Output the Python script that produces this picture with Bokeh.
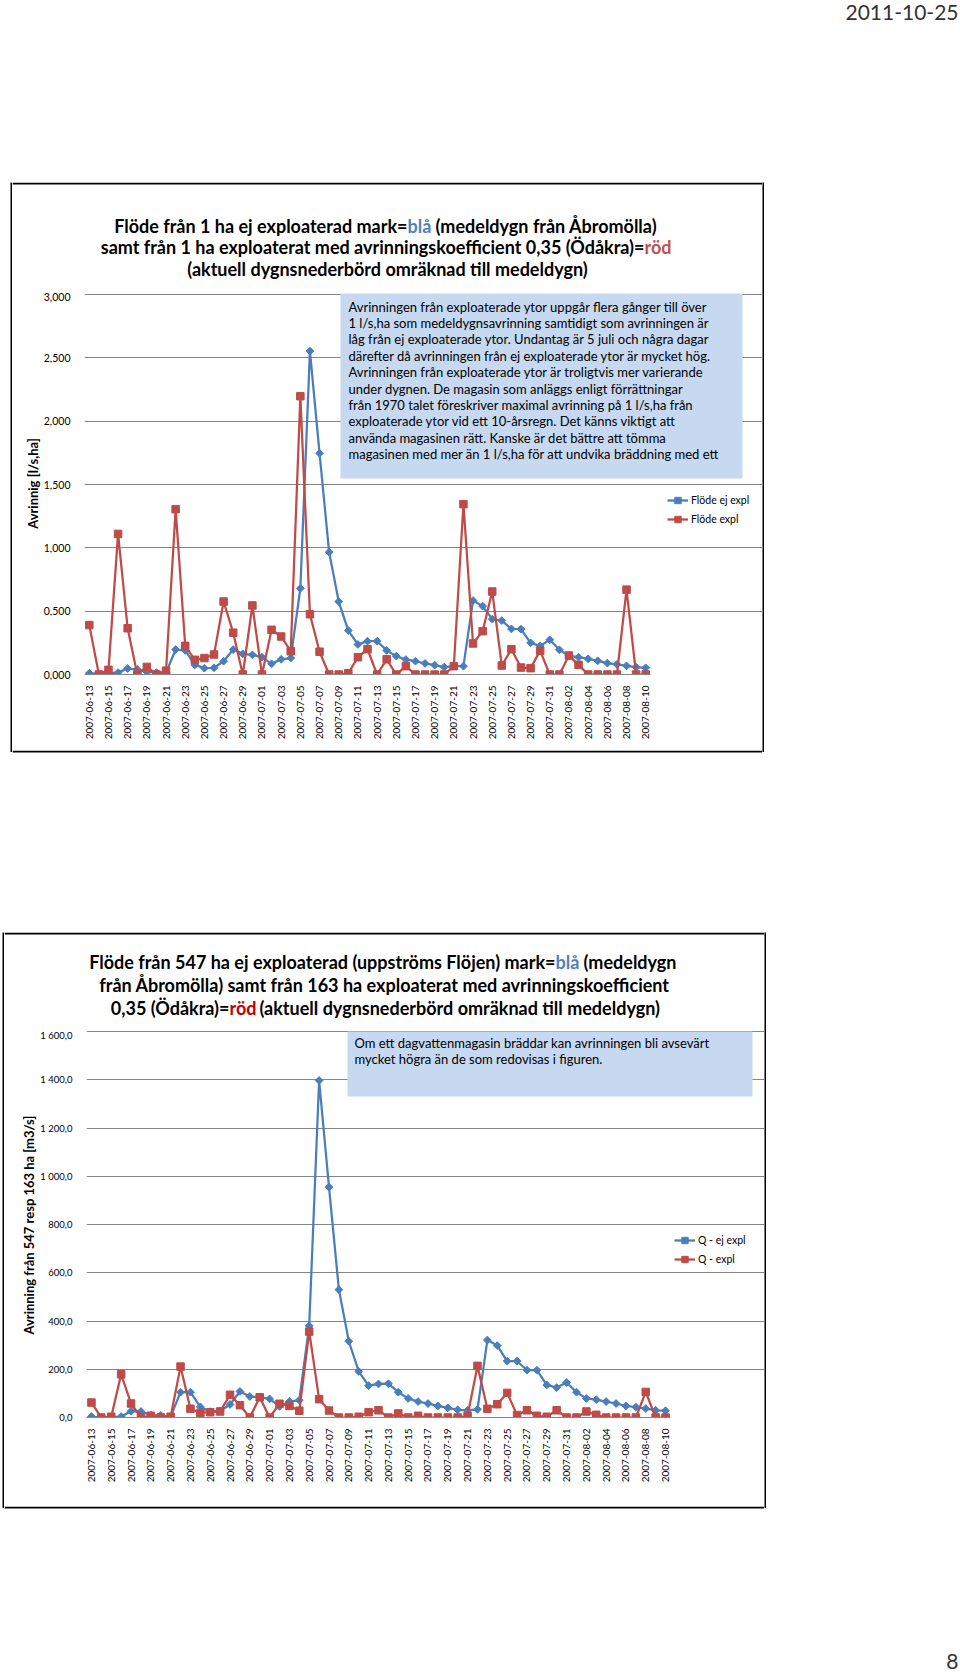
import numpy as np
import pandas as pd
from bokeh.plotting import figure
from bokeh.models import Range1d, FixedTicker, Label, BoxAnnotation, Legend, LegendItem, Spacer
from bokeh.layouts import column, row
from bokeh.embed import file_html
from bokeh.resources import INLINE

# ---------------- data ----------------
dates = [d.strftime("%Y-%m-%d") for d in pd.date_range("2007-06-13", "2007-08-10", freq="D")]

# chart 1 : l/s,ha
flode_ej_expl = [0.010, 0.005, 0.010, 0.015, 0.047, 0.040, 0.020, 0.015, 0.015, 0.197,
                 0.190, 0.076, 0.050, 0.053, 0.105, 0.197, 0.163, 0.155, 0.137, 0.084,
                 0.120, 0.130, 0.680, 2.553, 1.747, 0.966, 0.576, 0.347, 0.237, 0.263,
                 0.263, 0.190, 0.145, 0.118, 0.105, 0.087, 0.074, 0.058, 0.066, 0.066,
                 0.584, 0.540, 0.437, 0.426, 0.360, 0.358, 0.250, 0.226, 0.274, 0.195,
                 0.147, 0.137, 0.124, 0.108, 0.090, 0.080, 0.068, 0.058, 0.053]
flode_expl = [0.390, 0.000, 0.037, 1.110, 0.365, 0.000, 0.060, 0.000, 0.030, 1.305,
              0.226, 0.116, 0.130, 0.158, 0.576, 0.330, 0.000, 0.545, 0.000, 0.353,
              0.300, 0.184, 2.197, 0.476, 0.180, 0.000, 0.000, 0.010, 0.137, 0.200,
              0.000, 0.120, 0.000, 0.066, 0.000, 0.000, 0.000, 0.000, 0.066, 1.345,
              0.245, 0.342, 0.655, 0.071, 0.200, 0.055, 0.050, 0.187, 0.000, 0.000,
              0.150, 0.076, 0.000, 0.000, 0.000, 0.000, 0.670, 0.000, 0.000]

# chart 2
q_ej_expl = [4, 0, 2, 4, 26, 25, 10, 9, 3, 105,
             105, 44, 24, 27, 54, 108, 87, 85, 77, 46,
             66, 72, 380, 1397, 955, 530, 316, 191, 132, 139,
             140, 105, 79, 66, 58, 48, 40, 32, 30, 34,
             321, 298, 234, 234, 196, 196, 135, 124, 145, 105,
             79, 74, 66, 58, 48, 43, 37, 30, 28]
q_expl = [62, 0, 3, 179, 58, 0, 7, 0, 3, 211,
          36, 19, 22, 25, 94, 51, 0, 84, 0, 57,
          48, 28, 356, 76, 29, 0, 0, 3, 22, 30,
          0, 17, 0, 7, 0, 0, 0, 0, 7, 214,
          36, 55, 102, 10, 30, 7, 3, 30, 0, 0,
          25, 11, 0, 0, 0, 0, 106, 0, 0]

y1_ticks = [0.0, 0.5, 1.0, 1.5, 2.0, 2.5, 3.0]
y1_labels = ["0,000", "0,500", "1,000", "1,500", "2,000", "2,500", "3,000"]
y2_ticks = [0, 200, 400, 600, 800, 1000, 1200, 1400, 1600]
y2_labels = ["0,0", "200,0", "400,0", "600,0", "800,0", "1 000,0", "1 200,0", "1 400,0", "1 600,0"]

textbox1_lines = [
    "Avrinningen från exploaterade ytor uppgår flera gånger till över",
    "1 l/s,ha som medeldygnsavrinning samtidigt som avrinningen är",
    "låg från ej exploaterade ytor. Undantag är 5 juli och några dagar",
    "därefter då avrinningen från ej exploaterade ytor är mycket hög.",
    "Avrinningen från exploaterade ytor är troligtvis mer varierande",
    "under dygnen. De magasin som anläggs enligt förrättningar",
    "från 1970 talet föreskriver maximal avrinning på 1 l/s,ha från",
    "exploaterade ytor vid ett 10-årsregn. Det känns viktigt att",
    "använda magasinen rätt. Kanske är det bättre att tömma",
    "magasinen med mer än 1 l/s,ha för att undvika bräddning med ett",
]
textbox2_lines = [
    "Om ett dagvattenmagasin bräddar kan avrinningen bli avsevärt",
    "mycket högra än de som redovisas i figuren.",
]

# ---------------- styles ----------------
BLUE = "#4A7EBB"
RED = "#BE4B48"
GRID = "#868686"
BOXC = "#C6D9F1"
FONT = "Lato"
TSIZE = "18px"
N = len(dates)
xs = list(range(N))
x_idx = list(range(0, N, 2))
STRIP = 20   # height of the strip that carries the bottom edge of a chart box


def plain_fig(w, h, bg="white"):
    f = figure(width=w, height=h, output_backend="svg", toolbar_location=None, title=None,
               x_axis_location=None, y_axis_location=None,
               x_range=Range1d(0, w), y_range=Range1d(h, 0),
               min_border=0, outline_line_color=None, frame_align=False,
               background_fill_color=bg, border_fill_color=bg)
    f.grid.visible = False
    return f


def edge(p, l, r, t, b):
    p.add_layout(BoxAnnotation(left=l, right=r, top=t, bottom=b, fill_color="#000000",
                               fill_alpha=1, line_color=None))


def chart_fig(cw, ch, ml, mb, x_end, y_end, yticks, ylabels, ylabel, ymax, ysize, lsize):
    p = figure(width=cw, height=ch, output_backend="svg", toolbar_location=None, title=None,
               x_range=Range1d(-0.5, x_end), y_range=Range1d(0, y_end),
               min_border_left=ml, min_border_right=0, min_border_top=0,
               min_border_bottom=mb, outline_line_color=None, frame_align=False,
               background_fill_color="white", border_fill_color="white")
    p.xgrid.visible = False
    p.ygrid.ticker = FixedTicker(ticks=yticks)
    p.ygrid.grid_line_color = GRID
    p.ygrid.grid_line_width = 1
    p.ygrid.bounds = (-0.5, N - 0.5)

    xa = p.xaxis[0]
    xa.bounds = (-0.5, N - 0.5)
    xa.ticker = FixedTicker(ticks=x_idx)
    xa.major_label_overrides = {i: dates[i] for i in x_idx}
    xa.major_label_orientation = np.pi / 2
    xa.axis_line_color = GRID
    xa.major_tick_line_color = None
    xa.minor_tick_line_color = None
    xa.major_label_standoff = 5
    xa.major_label_text_font = FONT
    xa.major_label_text_font_size = "10px"
    xa.major_label_text_color = "#000000"

    ya = p.yaxis[0]
    ya.bounds = (0, ymax)
    ya.ticker = FixedTicker(ticks=yticks)
    ya.major_label_overrides = dict(zip(yticks, ylabels))
    ya.axis_line_color = None
    ya.major_tick_line_color = None
    ya.minor_tick_line_color = None
    ya.major_label_standoff = 8
    ya.major_label_text_font = FONT
    ya.major_label_text_font_size = ysize
    ya.major_label_text_color = "#000000"
    ya.axis_label = ylabel
    ya.axis_label_text_font = FONT
    ya.axis_label_text_font_style = "bold"
    ya.axis_label_text_font_size = lsize
    ya.axis_label_text_color = "#000000"
    ya.axis_label_standoff = 0
    return p


def add_series(p, blue, red, dsize, ssize, names, loc):
    bl = p.line(xs, blue, line_color=BLUE, line_width=2.25)
    bs = p.scatter(xs, blue, marker="square", angle=np.pi / 4, size=dsize,
                   fill_color=BLUE, line_color=BLUE)
    rl = p.line(xs, red, line_color=RED, line_width=2.25)
    rs = p.scatter(xs, red, marker="square", size=ssize, fill_color=RED, line_color=RED)
    leg = Legend(items=[LegendItem(label=names[0], renderers=[bl, bs]),
                        LegendItem(label=names[1], renderers=[rl, rs])],
                 location=loc, border_line_color=None, background_fill_alpha=0,
                 padding=0, margin=0, spacing=3, glyph_width=21, glyph_height=16,
                 label_height=16, label_standoff=3, label_text_font=FONT,
                 label_text_font_size="10.5px", label_text_color="#000000")
    p.add_layout(leg)


def lab(p, x, y, text, size, align="left", bold=False, color="#000000"):
    p.add_layout(Label(x=x, y=y, text=text, text_align=align, text_baseline="middle",
                       text_font=FONT, text_font_size=size,
                       text_font_style="bold" if bold else "normal", text_color=color))


def framed(title_fig, chart, w, box_h):
    """2px black box: top edge in the title strip, bottom edge in a white strip,
    side edges as thin black figures"""
    tw = title_fig.width
    edge(title_fig, 0, tw, 0, 2)
    bottom = plain_fig(w, STRIP)
    edge(bottom, 0, w, 0, 2)
    inner = column(title_fig, chart, bottom, spacing=0)
    return row(plain_fig(2, box_h, "#000000"), inner, plain_fig(2, box_h, "#000000"),
               spacing=0)


# ================= header (page y 0..182) =================
hdr = plain_fig(960, 182)
lab(hdr, 958, 12, "2011-10-25", "21px", "right", False, "#333333")

# ================= chart 1 (box page x 10..764, y 182..752) =================
B1X, B1Y = 12, 182                  # inner canvas origin on page
B1W = 750
FL1, FR1, FT1, FB1 = 84, 650, 294, 674   # data area on page
TH1 = 110                           # title strip height (page 182..292)
PX1 = (FR1 - FL1) / N
PY1 = (FB1 - FT1) / 3.0
C1Y = B1Y + TH1                     # chart canvas top (page)
C1B = 750                           # chart canvas bottom (page)


def X1(px):
    return -0.5 + (px - FL1) / PX1


def Y1(py):
    return (FB1 - py) / PY1


t1 = plain_fig(B1W, TH1)
lab(t1, 407 - B1X, 225 - B1Y, "Flöde från 1 ha ej exploaterad mark=", TSIZE, "right", True)
lab(t1, 407 - B1X, 225 - B1Y, "blå", TSIZE, "left", True, "#4F81BD")
lab(t1, 435 - B1X, 225 - B1Y, "(medeldygn från Åbromölla)", TSIZE, "left", True)
lab(t1, 644 - B1X, 246 - B1Y, "samt från 1 ha exploaterat med avrinningskoefficient 0,35 (Ödåkra)=",
    TSIZE, "right", True)
lab(t1, 644 - B1X, 246 - B1Y, "röd", TSIZE, "left", True, "#C0504D")
lab(t1, 387 - B1X, 268 - B1Y, "(aktuell dygnsnederbörd omräknad till medeldygn)", TSIZE, "center", True)

p1 = chart_fig(B1W, C1B - C1Y, FL1 - B1X, C1B - FB1, X1(B1X + B1W), Y1(C1Y),
               y1_ticks, y1_labels, "Avrinnig [l/s,ha]", 3.0, "10.5px", "13px")
p1.add_layout(BoxAnnotation(left=X1(340), right=X1(742), top=Y1(293), bottom=Y1(478),
                            fill_color=BOXC, fill_alpha=1, line_color=None))
add_series(p1, flode_ej_expl, flode_expl, 5.5, 7.5, ["Flöde ej expl", "Flöde expl"],
           (667 - FL1, FB1 - 527))
for k, t in enumerate(textbox1_lines):
    lab(p1, X1(348), Y1(306 + 16.4 * k), t, "13px")

chart1 = framed(t1, p1, B1W, 752 - 182)
ROW1_H = TH1 + (C1B - C1Y) + STRIP       # page 182 .. 770

# ================= chart 2 (box page x 2..766, y 932..1508) =================
B2X, B2Y = 4, 932
B2W = 760
FL2, FR2, FT2, FB2 = 86, 670, 1031, 1417
TH2 = 97                            # page 932..1029
PX2 = (FR2 - FL2) / N
PY2 = (FB2 - FT2) / 1600.0
C2Y = B2Y + TH2
C2B = 1506


def X2(px):
    return -0.5 + (px - FL2) / PX2


def Y2(py):
    return (FB2 - py) / PY2


t2 = plain_fig(B2W, TH2)
lab(t2, 555 - B2X, 961 - B2Y, "Flöde från 547 ha ej exploaterad (uppströms Flöjen) mark=", TSIZE, "right", True)
lab(t2, 555 - B2X, 961 - B2Y, "blå", TSIZE, "left", True, "#4F81BD")
lab(t2, 583 - B2X, 961 - B2Y, "(medeldygn", TSIZE, "left", True)
lab(t2, 384 - B2X, 984 - B2Y, "från Åbromölla) samt från 163 ha exploaterat med avrinningskoefficient",
    TSIZE, "center", True)
lab(t2, 229 - B2X, 1007 - B2Y, "0,35 (Ödåkra)=", TSIZE, "right", True)
lab(t2, 229 - B2X, 1007 - B2Y, "röd", TSIZE, "left", True, "#C00000")
lab(t2, 259 - B2X, 1007 - B2Y, "(aktuell dygnsnederbörd omräknad till medeldygn)", TSIZE, "left", True)

p2 = chart_fig(B2W, C2B - C2Y, FL2 - B2X, C2B - FB2, X2(B2X + B2W), Y2(C2Y),
               y2_ticks, y2_labels, "Avrinning från 547 resp 163 ha  [m3/s]", 1600,
               "9.5px", "13px")
p2.add_layout(BoxAnnotation(left=X2(347), right=X2(752), top=Y2(1031), bottom=Y2(1096),
                            fill_color=BOXC, fill_alpha=1, line_color=None))
add_series(p2, q_ej_expl, q_expl, 5.5, 7.5, ["Q - ej expl", "Q - expl"],
           (674 - FL2, FB2 - 1267))
for k, t in enumerate(textbox2_lines):
    lab(p2, X2(354), Y2(1042 + 16.5 * k), t, "13px")

chart2 = framed(t2, p2, B2W, 1508 - 932)
ROW2_H = TH2 + (C2B - C2Y) + STRIP       # page 932 .. 1526

# ================= footer =================
FOOT_Y = B2Y + ROW2_H
ftr = plain_fig(960, 1678 - FOOT_Y)
lab(ftr, 958, 1661 - FOOT_Y, "8", "21px", "right", False, "#333333")

page = column(
    hdr,
    row(Spacer(width=10, height=ROW1_H), chart1, spacing=0),
    Spacer(width=960, height=B2Y - (182 + ROW1_H)),
    row(Spacer(width=2, height=ROW2_H), chart2, spacing=0),
    ftr,
    spacing=0,
)
open("out.html", "w").write(file_html(page, INLINE))
